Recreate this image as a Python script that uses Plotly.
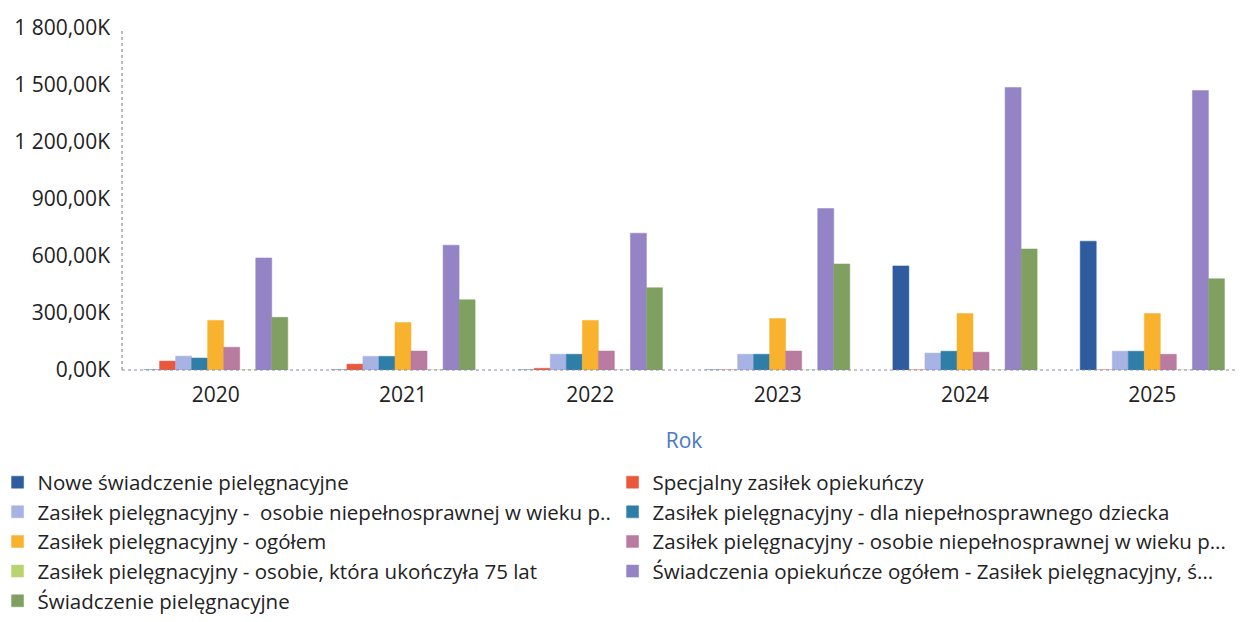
import plotly.graph_objects as go

lata = ['2020', '2021', '2022', '2023', '2024', '2025']

nowe_swiadczenie = [0, 0, 0, 0, 548000, 678000]
specjalny_zasilek = [47000, 31000, 9000, 0, 0, 0]
zasilek_wiek_p1 = [73000, 72000, 83000, 83000, 89000, 99000]
zasilek_dziecko = [63000, 72000, 83000, 83000, 99000, 99000]
zasilek_ogolem = [261000, 250000, 261000, 271000, 297000, 297000]
zasilek_wiek_p2 = [120000, 100000, 100000, 100000, 94000, 83000]
zasilek_75 = [0, 0, 0, 0, 0, 0]
swiadczenia_ogolem = [590000, 657000, 720000, 850000, 1487000, 1471000]
swiadczenie_piel = [277000, 370000, 433000, 558000, 637000, 480000]

serie = [
    ('Nowe świadczenie pielęgnacyjne', nowe_swiadczenie, '#2F5C9E'),
    ('Specjalny zasiłek opiekuńczy', specjalny_zasilek, '#E9583C'),
    ('Zasiłek pielęgnacyjny -\u00a0 osobie niepełnosprawnej w wieku p..', zasilek_wiek_p1, '#A7B3E2'),
    ('Zasiłek pielęgnacyjny - dla niepełnosprawnego dziecka', zasilek_dziecko, '#2F7EA8'),
    ('Zasiłek pielęgnacyjny - ogółem', zasilek_ogolem, '#F9B22E'),
    ('Zasiłek pielęgnacyjny - osobie niepełnosprawnej w wieku p...', zasilek_wiek_p2, '#B97B9F'),
    ('Zasiłek pielęgnacyjny - osobie, która ukończyła 75 lat', zasilek_75, '#B8D46E'),
    ('Świadczenia opiekuńcze ogółem - Zasiłek pielęgnacyjny, ś...', swiadczenia_ogolem, '#9484C6'),
    ('Świadczenie pielęgnacyjne', swiadczenie_piel, '#7FA060'),
]

y_ticks = [0, 300000, 600000, 900000, 1200000, 1500000, 1800000]
y_labels = ['0,00K', '300,00K', '600,00K', '900,00K', '1 200,00K', '1 500,00K', '1 800,00K']

fig = go.Figure()
for nazwa, wartosci, kolor in serie:
    fig.add_trace(go.Bar(name=nazwa, x=lata, y=wartosci,
                         marker=dict(color=kolor, line=dict(color=kolor, width=0.5))))

# strona ma 8px marginesu body, stad mniejsze wymiary
fig.update_layout(
    width=1238, height=614,
    barmode='group', bargap=0.23, bargroupgap=0,
    plot_bgcolor='white', paper_bgcolor='white',
    font=dict(family='Open Sans', size=19, color='#222222'),
    margin=dict(l=114, r=0, t=20, b=252, autoexpand=False),
    showlegend=True,
    legend=dict(orientation='h', x=-0.1107, xanchor='left', y=-0.27, yanchor='top',
                entrywidth=570, entrywidthmode='pixels', traceorder='normal',
                font=dict(size=20.5, color='#222222'), itemwidth=30,
                borderwidth=0, bgcolor='rgba(0,0,0,0)'),
)
fig.update_xaxes(showgrid=False, showline=False, ticks='', tickfont=dict(size=21),
                 ticklabelstandoff=10,
                 title=dict(text='Rok', font=dict(size=21, color='#4A78C4'), standoff=26))
fig.update_yaxes(range=[0, 1800000], showgrid=False, zeroline=False, showline=False,
                 tickvals=y_ticks, ticktext=y_labels, tickfont=dict(size=21), ticks='',
                 ticklabelstandoff=11)

# kropkowane linie osi
fig.add_shape(type='line', xref='paper', yref='paper', x0=0, x1=0, y0=0, y1=1,
              line=dict(color='#777777', width=1, dash='dot'))
fig.add_shape(type='line', xref='paper', yref='paper', x0=0, x1=1, y0=0, y1=0,
              line=dict(color='#8888aa', width=1, dash='dot'))

fig.write_html('out.html')
